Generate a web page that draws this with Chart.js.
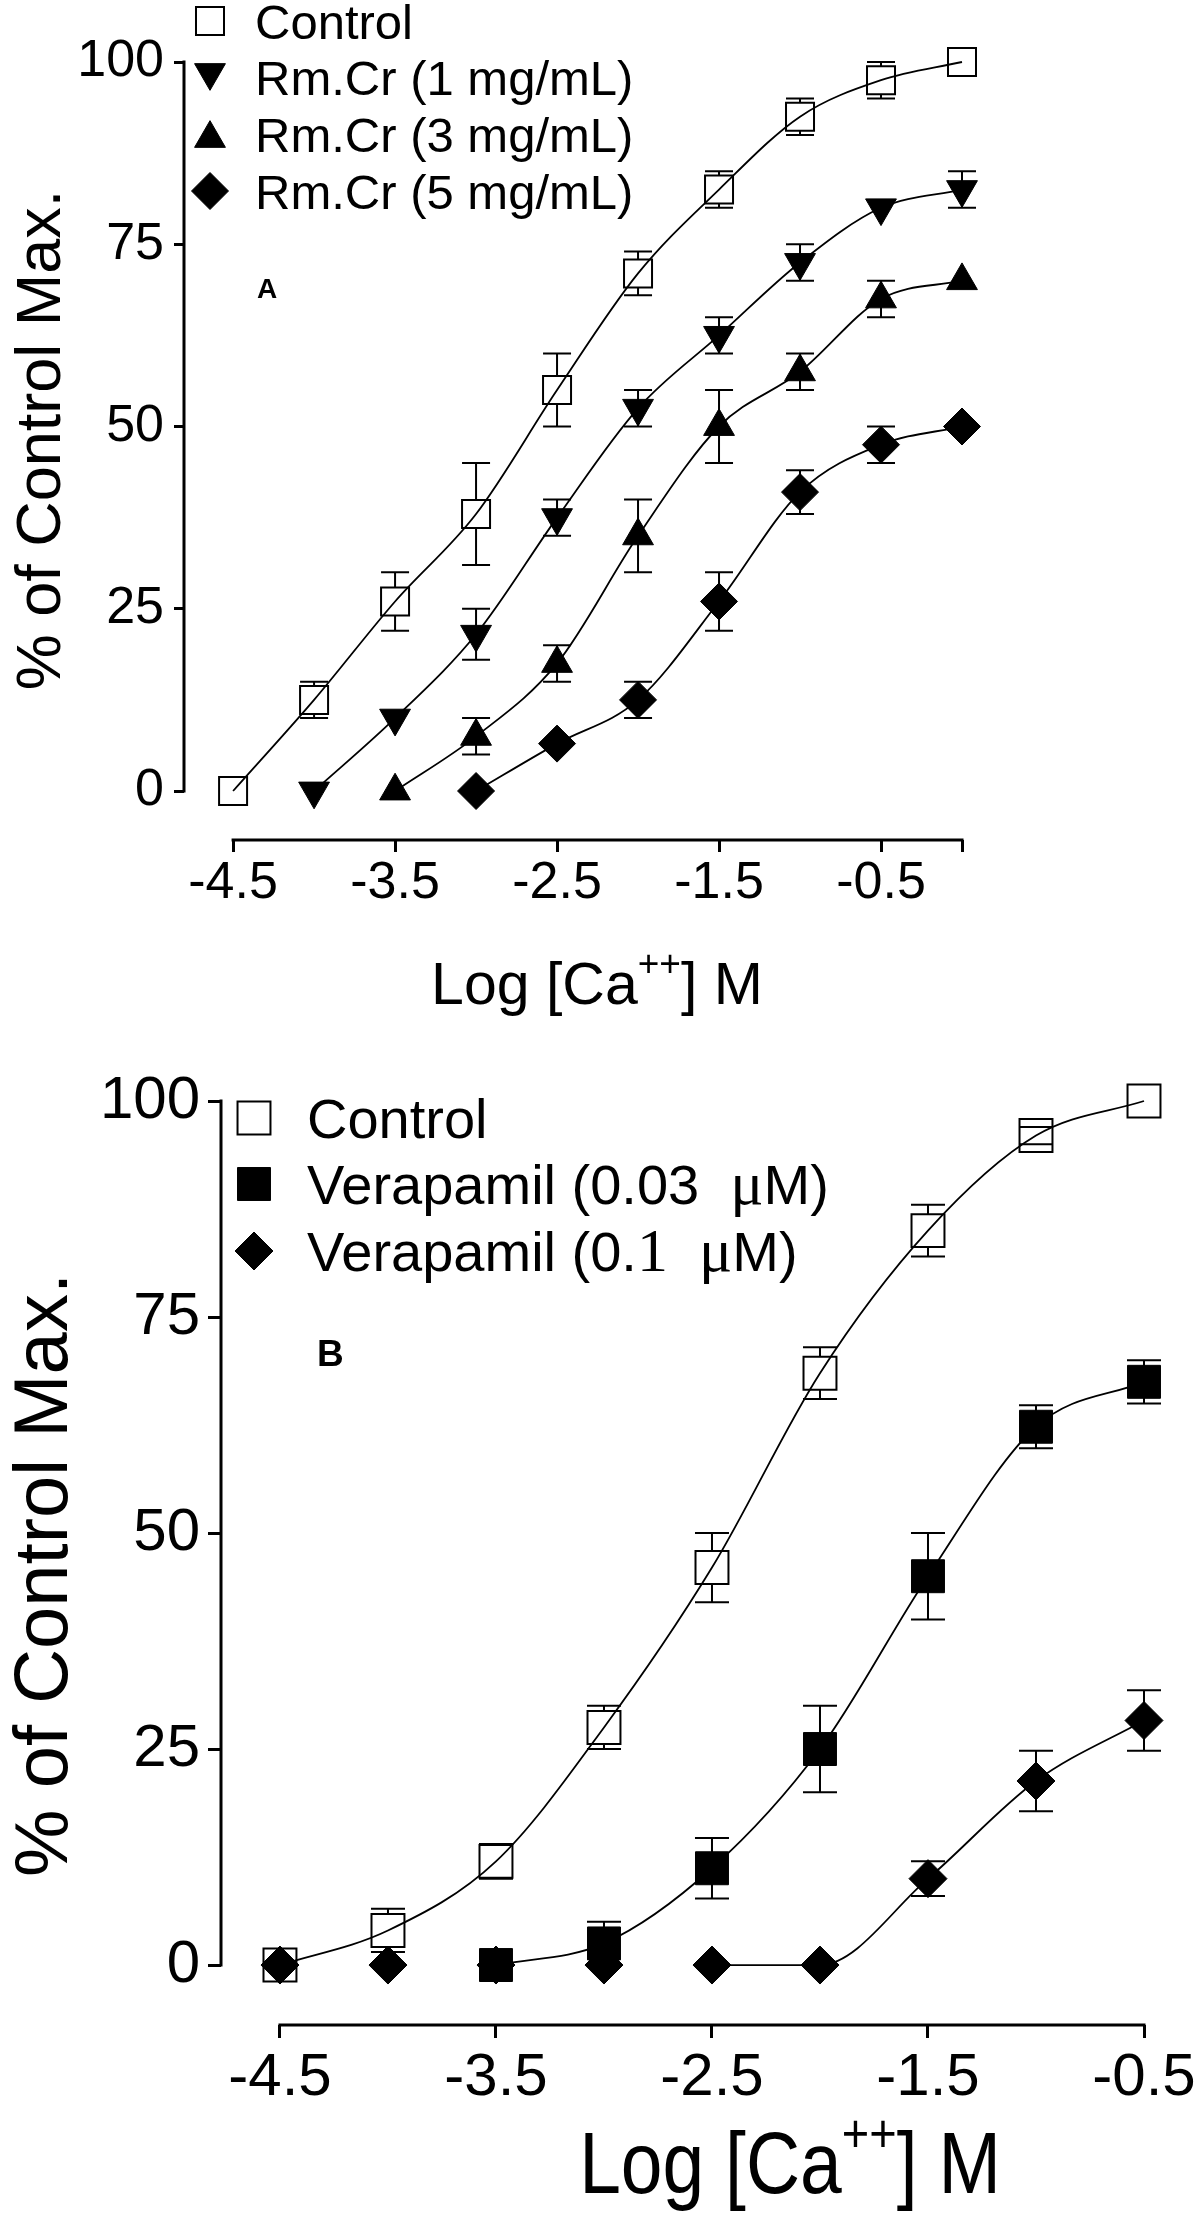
<!DOCTYPE html>
<html>
<head>
<meta charset="utf-8">
<script src="https://cdn.jsdelivr.net/npm/chart.js@4.4.1/dist/chart.umd.min.js"></script>
<style>
  html, body { margin: 0; padding: 0; background: #fff; }
  #wrap { position: relative; width: 1200px; height: 2237px; }
  canvas { position: absolute; left: 0; }
</style>
</head>
<body>
<div id="wrap">
  <canvas id="chartA" width="1200" height="1040" style="top:0"></canvas>
  <canvas id="chartB" width="1200" height="1197" style="top:1040px"></canvas>
</div>
<script>
// ---- panel A : Rm.Cr ----
const xA = [-4.5, -4, -3.5, -3, -2.5, -2, -1.5, -1, -0.5, 0];
const controlA = [0, 12.5, 26, 38, 55, 71, 82.5, 92.5, 97.5, 100];
const controlAErr = [0, 2.5, 4, 7, 5, 3, 2.5, 2.5, 2.5, 0];
const rm1X = [-4, -3.5, -3, -2.5, -2, -1.5, -1, -0.5, 0];
const rm1 = [0, 10, 21.5, 37.5, 52.5, 62.5, 72.5, 80, 82.5];
const rm1Err = [0, 0, 3.5, 2.5, 2.5, 2.5, 2.5, 0, 2.5];
const rm3X = [-3.5, -3, -2.5, -2, -1.5, -1, -0.5, 0];
const rm3 = [0, 7.5, 17.5, 35, 50, 57.5, 67.5, 70];
const rm3Err = [0, 2.5, 2.5, 5, 5, 2.5, 2.5, 0];
const rm5X = [-3, -2.5, -2, -1.5, -1, -0.5, 0];
const rm5 = [0, 6.5, 12.5, 26, 41, 47.5, 50];
const rm5Err = [0, 0, 2.5, 4, 3, 2.5, 0];
const xTicksA = [-4.5, -3.5, -2.5, -1.5, -0.5, 0];

// ---- panel B : verapamil ----
const xB = [-4.5, -4, -3.5, -3, -2.5, -2, -1.5, -1, -0.5];
const controlB = [0, 4, 12, 27.5, 46, 68.5, 85, 96, 100];
const controlBErr = [0, 2.5, 2, 2.5, 4, 3, 3, 1, 0];
const vera003X = [-3.5, -3, -2.5, -2, -1.5, -1, -0.5];
const vera003 = [0, 2.5, 11.2, 25, 45, 62.3, 67.5];
const vera003Err = [0, 2.5, 3.5, 5, 5, 2.5, 2.5];
const vera01 = [0, 0, 0, 0, 0, 0, 10, 21.3, 28.3];
const vera01Err = [0, 0, 0, 0, 0, 0, 2, 3.5, 3.5];
const xTicksB = [-4.5, -3.5, -2.5, -1.5, -0.5];

const yTicks = [0, 25, 50, 75, 100];

const SANS = "'Liberation Sans', Arial, Helvetica, sans-serif";
const SERIF = "'Liberation Serif', 'Times New Roman', serif";

function fontOf(part) {
  return (part.weight || 'normal') + ' ' + part.size + 'px ' + (part.family || SANS);
}

function richWidth(ctx, parts) {
  let w = 0;
  parts.forEach(pt => { ctx.font = fontOf(pt); w += ctx.measureText(pt.text).width; });
  return w;
}

function drawRich(ctx, parts, x, baseline) {
  let cx = x;
  parts.forEach(pt => {
    ctx.font = fontOf(pt);
    ctx.fillText(pt.text, cx, baseline - (pt.rise || 0));
    cx += ctx.measureText(pt.text).width;
  });
}

function logCaTitle(f) {
  return [
    { text: 'Log [Ca', size: f },
    { text: '++', size: Math.round(f * 0.62), rise: f * 0.47 },
    { text: '] M', size: f }
  ];
}

// legend marker, same shapes as chart.js point styles
function drawMarker(ctx, s, x, y) {
  const r = s.radius;
  ctx.save();
  ctx.beginPath();
  if (s.style === 'rect') {
    const h = r * Math.SQRT1_2;
    ctx.rect(x - h, y - h, 2 * h, 2 * h);
  } else if (s.style === 'rectRot') {
    ctx.moveTo(x - r, y); ctx.lineTo(x, y - r); ctx.lineTo(x + r, y); ctx.lineTo(x, y + r);
    ctx.closePath();
  } else {
    let a = (s.rotation || 0) * Math.PI / 180;
    // shift so the triangle box sits on the row centre
    const dy = (s.rotation ? -1 : 1) * r * 0.25;
    for (let k = 0; k < 3; k++) {
      const px = x + Math.sin(a) * r, py = y + dy - Math.cos(a) * r;
      if (k) ctx.lineTo(px, py); else ctx.moveTo(px, py);
      a += 2 * Math.PI / 3;
    }
    ctx.closePath();
  }
  ctx.fillStyle = s.filled ? '#000' : '#fff';
  ctx.fill();
  ctx.lineWidth = s.filled ? 1 : 2;
  ctx.strokeStyle = '#000';
  ctx.stroke();
  ctx.restore();
}

function buildChart(canvasId, p) {
  const cv = document.getElementById(canvasId);

  const datasets = p.series.map(s => ({
    label: s.legend.map(t => t.text).join(''),
    data: s.xs.map((x, i) => ({ x: x, y: s.ys[i] })),
    err: s.err,
    borderColor: '#000',
    borderWidth: p.curveWidth,
    pointStyle: s.style,
    pointRadius: s.radius,
    pointHoverRadius: s.radius,
    pointRotation: s.rotation || 0,
    pointBackgroundColor: s.filled ? '#000' : 'rgba(0,0,0,0)',
    pointBorderColor: '#000',
    pointBorderWidth: s.filled ? 1 : 2,
    cubicInterpolationMode: 'monotone',
    fill: false,
    clip: false,
    segment: {
      borderColor: ctx => ctx.p0DataIndex < (s.curveFrom || 0) ? 'rgba(0,0,0,0)' : '#000'
    }
  }));

  // SEM bars, stems stop at the edge of hollow markers
  const errorBars = {
    id: 'errorBars',
    afterDatasetsDraw(chart) {
      const { ctx, scales: { y } } = chart;
      ctx.save();
      ctx.strokeStyle = '#000';
      ctx.lineWidth = p.errWidth;
      chart.data.datasets.forEach((ds, di) => {
        const s = p.series[di];
        const meta = chart.getDatasetMeta(di);
        meta.data.forEach((pt, i) => {
          const e = ds.err[i];
          if (!e) return;
          const v = ds.data[i].y;
          const top = y.getPixelForValue(v + e);
          const bot = y.getPixelForValue(v - e);
          const half = p.capWidth / 2;
          const gap = s.filled ? 0 : s.radius * Math.SQRT1_2;
          ctx.beginPath();
          if (top < pt.y - gap) { ctx.moveTo(pt.x, top); ctx.lineTo(pt.x, pt.y - gap); }
          if (bot > pt.y + gap) { ctx.moveTo(pt.x, pt.y + gap); ctx.lineTo(pt.x, bot); }
          ctx.moveTo(pt.x - half, top); ctx.lineTo(pt.x + half, top);
          ctx.moveTo(pt.x - half, bot); ctx.lineTo(pt.x + half, bot);
          ctx.stroke();
        });
      });
      ctx.restore();
    }
  };

  // axis lines (prism style, detached), titles, legend, panel letter
  const frame = {
    id: 'frame',
    afterDraw(chart) {
      const { ctx, chartArea: area, scales: { x, y } } = chart;
      ctx.save();
      ctx.strokeStyle = '#000';
      ctx.lineWidth = p.axisWidth;
      ctx.beginPath();
      ctx.moveTo(area.left, y.getPixelForValue(yTicks[yTicks.length - 1]) - 1.5);
      ctx.lineTo(area.left, y.getPixelForValue(yTicks[0]) + 1.5);
      ctx.moveTo(x.getPixelForValue(p.xTicks[0]) - 1.5, area.bottom);
      ctx.lineTo(x.getPixelForValue(p.xTicks[p.xTicks.length - 1]) + 1.5, area.bottom);
      ctx.stroke();

      ctx.fillStyle = '#000';
      ctx.textAlign = 'left';
      ctx.textBaseline = 'alphabetic';

      // x title
      const xt = p.xTitle;
      const xParts = logCaTitle(xt.size);
      ctx.save();
      ctx.translate(xt.cx, xt.cy);
      ctx.scale(1, xt.across);
      drawRich(ctx, xParts, -richWidth(ctx, xParts) / 2, xt.size * 0.358);
      ctx.restore();

      // y title
      const yt = p.yTitle;
      const yParts = [{ text: '% of Control Max.', size: yt.size }];
      ctx.save();
      ctx.translate(yt.cx, yt.cy);
      ctx.rotate(-Math.PI / 2);
      ctx.scale(yt.along, 1);
      drawRich(ctx, yParts, -richWidth(ctx, yParts) / 2, yt.size * 0.358);
      ctx.restore();

      // legend
      const lg = p.legend;
      p.series.forEach((s, i) => {
        const rowY = lg.rows[i];
        drawMarker(ctx, s, lg.markerX, rowY);
        const parts = s.legend.map(t => Object.assign({ size: lg.size }, t));
        drawRich(ctx, parts, lg.textX, rowY + lg.size * 0.358);
      });

      // panel letter
      const lt = p.letter;
      drawRich(ctx, [{ text: lt.text, size: lt.size, weight: 'bold' }], lt.x, lt.cy + lt.size * 0.358);
      ctx.restore();
    }
  };

  const tickFont = { family: SANS, size: p.tickFont };

  return new Chart(cv, {
    type: 'line',
    data: { datasets },
    options: {
      responsive: false,
      animation: false,
      devicePixelRatio: 1,
      layout: {
        padding: { left: 0, top: p.area.top, right: cv.width - p.area.right, bottom: 0 }
      },
      plugins: {
        legend: { display: false },
        tooltip: { enabled: false }
      },
      scales: {
        x: {
          type: 'linear',
          min: p.xMin,
          max: p.xMax,
          afterBuildTicks: s => { s.ticks = p.xTicks.map(v => ({ value: v })); },
          afterFit: s => { s.height = cv.height - p.area.bottom; },
          ticks: {
            font: tickFont,
            color: '#000',
            padding: p.xTickPad,
            autoSkip: false,
            maxRotation: 0,
            callback: v => (v === 0 ? '' : String(v))
          },
          grid: {
            drawOnChartArea: false,
            drawTicks: true,
            tickLength: p.xTickLen,
            tickWidth: p.axisWidth,
            tickColor: '#000'
          },
          border: { display: false }
        },
        y: {
          type: 'linear',
          min: p.yMin,
          max: 100,
          afterBuildTicks: s => { s.ticks = yTicks.map(v => ({ value: v })); },
          afterFit: s => { s.width = p.area.left; },
          ticks: {
            font: tickFont,
            color: '#000',
            padding: p.yTickPad,
            autoSkip: false,
            callback: v => String(v)
          },
          grid: {
            drawOnChartArea: false,
            drawTicks: true,
            tickLength: p.yTickLen,
            tickWidth: p.axisWidth,
            tickColor: '#000'
          },
          border: { display: false }
        }
      }
    },
    plugins: [errorBars, frame]
  });
}

buildChart('chartA', {
  area: { left: 184, right: 962, top: 62, bottom: 840 },
  xMin: -4.803, xMax: 0, yMin: -6.72,
  xTicks: xTicksA,
  tickFont: 52, yTickLen: 10, yTickPad: 10, xTickLen: 12, xTickPad: 0,
  axisWidth: 3, curveWidth: 1.8, errWidth: 2, capWidth: 28,
  xTitle: { size: 59, cx: 597, cy: 983, across: 1 },
  yTitle: { size: 63, cx: 37, cy: 440, along: 1 },
  legend: { markerX: 210, textX: 255, rows: [21, 77, 134, 191], size: 49 },
  letter: { text: 'A', x: 257, cy: 288, size: 28 },
  series: [
    { legend: [{ text: 'Control' }], xs: xA, ys: controlA, err: controlAErr,
      style: 'rect', radius: 19.8, filled: false },
    { legend: [{ text: 'Rm.Cr (1 mg/mL)' }], xs: rm1X, ys: rm1, err: rm1Err,
      style: 'triangle', rotation: 180, radius: 17.8, filled: true },
    { legend: [{ text: 'Rm.Cr (3 mg/mL)' }], xs: rm3X, ys: rm3, err: rm3Err,
      style: 'triangle', radius: 17.8, filled: true },
    { legend: [{ text: 'Rm.Cr (5 mg/mL)' }], xs: rm5X, ys: rm5, err: rm5Err,
      style: 'rectRot', radius: 18.5, filled: true }
  ]
});

buildChart('chartB', {
  area: { left: 221, right: 1144, top: 61, bottom: 985 },
  xMin: -4.773, xMax: -0.5, yMin: -6.94,
  xTicks: xTicksB,
  tickFont: 60, yTickLen: 13, yTickPad: 8, xTickLen: 13, xTickPad: 4,
  axisWidth: 3, curveWidth: 1.8, errWidth: 2, capWidth: 34,
  xTitle: { size: 75, cx: 790, cy: 1122, across: 1.15 },
  yTitle: { size: 76, cx: 40, cy: 535, along: 1 },
  legend: { markerX: 254, textX: 307, rows: [78, 144, 211], size: 56 },
  letter: { text: 'B', x: 317, cy: 313, size: 37 },
  series: [
    { legend: [{ text: 'Control' }], xs: xB, ys: controlB, err: controlBErr,
      style: 'rect', radius: 23.3, filled: false },
    { legend: [{ text: 'Verapamil (0.03  ' }, { text: '\u03bc', family: SERIF, size: 62 }, { text: 'M)' }],
      xs: vera003X, ys: vera003, err: vera003Err,
      style: 'rect', radius: 23.3, filled: true },
    { legend: [{ text: 'Verapamil (0.' }, { text: '1', family: SERIF, size: 62 }, { text: '  ' }, { text: '\u03bc', family: SERIF, size: 62 }, { text: 'M)' }],
      xs: xB, ys: vera01, err: vera01Err,
      style: 'rectRot', radius: 19, filled: true, curveFrom: 4 }
  ]
});
</script>
</body>
</html>
